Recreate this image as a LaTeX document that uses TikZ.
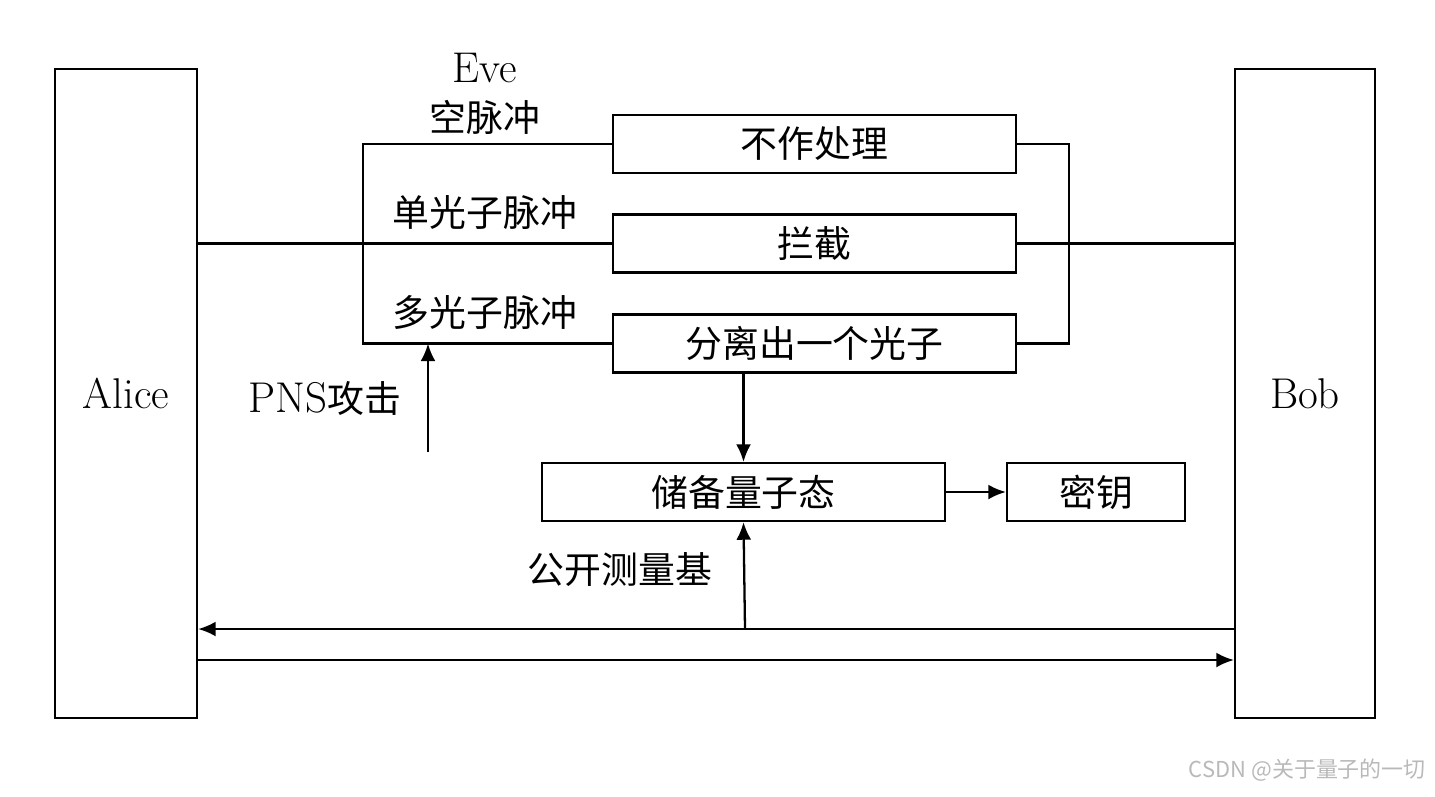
\documentclass[tikz,border=0pt]{standalone}
\usepackage{fontspec}
\newfontfamily\cjk{Noto Sans CJK SC}
\usetikzlibrary{arrows.meta}

\tikzset{
    box/.style={draw, line width=1.3pt, inner sep=0pt, font=\fontsize{21}{25}\selectfont\cjk},
    lbl/.style={font=\fontsize{21}{25}\selectfont\cjk},
    latin/.style={font=\fontsize{24.5}{29}\selectfont},
    link/.style={line width=1.3pt},
    arr/.style={line width=1.3pt, -{Latex[length=10pt, width=8.5pt]}}
}

\begin{document}
\begin{tikzpicture}[x=0.02cm, y=-0.02cm]
        \useasboundingbox (0, 0) rectangle (1435, 796);

        % Alice and Bob
        \node[box, latin, minimum width=2.84cm, minimum height=12.98cm] (alice) at (126, 393.5) {Alice};
        \node[box, latin, minimum width=2.8cm, minimum height=12.98cm] (bob) at (1305, 393.5) {Bob};

        % Eve's three branches
        \node[box, minimum width=8.06cm, minimum height=1.16cm] (nochg) at (814.5, 144) {不作处理};
        \node[box, minimum width=8.06cm, minimum height=1.16cm] (block) at (814.5, 243.5) {拦截};
        \node[box, minimum width=8.06cm, minimum height=1.16cm] (split) at (814.5, 343.5) {分离出一个光子};
        \node[box, minimum width=8.06cm, minimum height=1.16cm] (store) at (743.5, 492) {储备量子态};
        \node[box, minimum width=3.56cm, minimum height=1.16cm] (key) at (1096, 492) {密钥};

        \node[latin] (eve) at (485, 68) {Eve};
        \node[lbl] (empty) at (485, 117) {空脉冲};
        \node[lbl] (single) at (485, 213) {单光子脉冲};
        \node[lbl] (multi) at (485, 312) {多光子脉冲};
        \node[latin] (pns) at (325, 398) {PNS{\fontsize{21}{25}\selectfont\cjk 攻击}};
        \node[lbl] (basis) at (620, 570) {公开测量基};

        \coordinate (lb) at (363, 243.5);
        \coordinate (rb) at (1069, 243.5);
        \coordinate (pnsfoot) at (428, 452);
        \coordinate (pub) at (745, 629);
        \coordinate (qch) at (745, 660);

        % Brackets on both sides of the branches
        \draw[link] (nochg.west) -| (lb) |- (split.west);
        \draw[link] (alice.east |- block.west) -- (block.west);
        \draw[link] (nochg.east) -| (rb) |- (split.east);
        \draw[link] (block.east) -- (bob.west |- block.east);

        \draw[arr] (pnsfoot) -- (pnsfoot |- split.west);
        \draw[arr] (store.north |- split.south) -- (store.north);
        \draw[arr] (store) -- (key);

        % Classical and quantum channels
        \draw[arr] (bob.west |- pub) -- (alice.east |- pub);
        \draw[arr] (pub) -- (store.south);
        \draw[arr] (alice.east |- qch) -- (bob.west |- qch);

        \node[text=gray!55, font=\fontsize{12.5}{15}\selectfont\cjk, anchor=east] (mark) at (1432, 770) {CSDN @关于量子的一切};
    \end{tikzpicture}
\end{document}
